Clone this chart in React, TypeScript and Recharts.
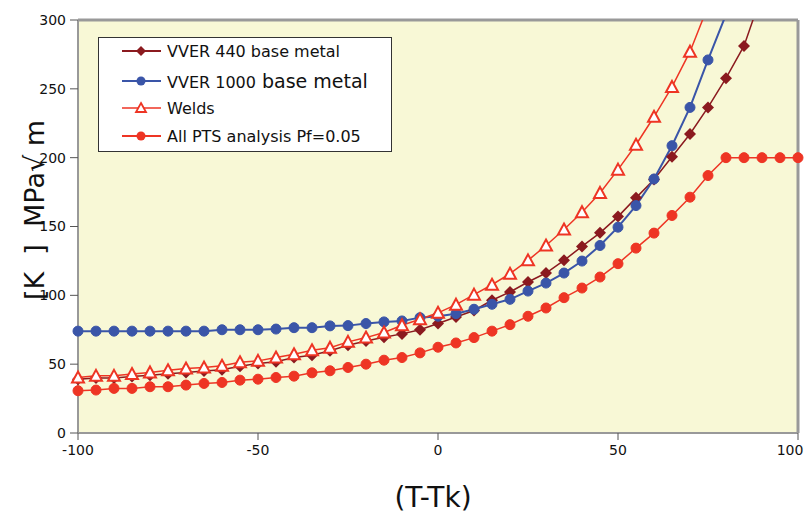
import React from 'react';
import { LineChart, Line, XAxis, YAxis, CartesianGrid, ReferenceLine, Legend } from 'recharts';

// T - Tk, step of 5
const temps = [
  -100, -95, -90, -85, -80, -75, -70, -65, -60, -55, -50, -45, -40, -35, -30, -25, -20, -15, -10, -5,
  0, 5, 10, 15, 20, 25, 30, 35, 40, 45, 50, 55, 60, 65, 70, 75, 80, 85, 90, 95, 100,
];

const vver440 = [
  39, 40, 40, 41, 42, 43, 44, 45, 46, 48.5, 50.5, 51.7, 54.8, 56.5, 59.7, 63.8, 66.9, 69.5, 72, 75,
  79.5, 84.3, 89, 96.4, 102.4, 109.7, 116.2, 125.4, 135.5, 145.4, 157.2, 170.8, 184.1, 200.7, 217.2, 236.5, 257.7, 281.2, 319, null, null,
];

const vver1000 = [
  74, 74, 74, 74, 74, 74, 74, 74, 75, 75, 75, 75.5, 76.5, 76.5, 77.8, 78, 79.5, 80.7, 81.4, 83.8,
  84.8, 86.7, 89.9, 93.5, 97.1, 103.1, 108.9, 116.2, 124.9, 136.2, 149.5, 165.2, 184.5, 208.7, 236.5, 271, 304, null, null, null, null,
];

const welds = [
  40.3, 41.5, 41.5, 42.8, 44, 45.6, 46.8, 47.6, 48.8, 51.4, 52.4, 54.8, 57.2, 60.1, 62, 66.2, 69.3, 73, 78.3, 82.6,
  87.3, 93.2, 100.5, 107.7, 115.7, 125.4, 136.2, 147.8, 160.4, 174.4, 191.3, 209.4, 229.7, 251.4, 277, 310, null, null, null, null, null,
];

const allPts = [
  30.7, 31.2, 32.4, 32.4, 33.6, 33.6, 34.8, 36, 36.7, 38.4, 39.1, 40.3, 41.3, 43.7, 45.2, 47.6, 50, 52.9, 54.8, 58.2,
  62.3, 65.4, 69.3, 74, 78.7, 84.8, 90.8, 98.3, 105.3, 113.3, 123, 134.3, 145.2, 158, 171.3, 187, 200, 200, 200, 200, 200,
];

const xTicks = [-100, -50, 0, 50, 100];
const yTicks = [0, 50, 100, 150, 200, 250, 300];

const data = temps.map((t, i) => ({
  t,
  vver440: vver440[i],
  vver1000: vver1000[i],
  welds: welds[i],
  allPts: allPts[i],
}));

const C440 = '#8b1a1f';
const C1000 = '#3a55a8';
const CRED = '#ee3524';
const FONT = '"DejaVu Sans", Verdana, sans-serif';

const Diamond = (props: any) => {
  const { cx, cy, index } = props;
  if (cx == null || cy == null) return <g key={`d-${index}`} />;
  return (
    <path
      key={`d-${index}`}
      d={`M${cx},${cy - 6} L${cx + 6},${cy} L${cx},${cy + 6} L${cx - 6},${cy} Z`}
      fill={C440}
    />
  );
};

const Triangle = (props: any) => {
  const { cx, cy, index } = props;
  if (cx == null || cy == null) return <g key={`t-${index}`} />;
  return (
    <path
      key={`t-${index}`}
      d={`M${cx},${cy - 6} L${cx + 6},${cy + 5} L${cx - 6},${cy + 5} Z`}
      fill="#fff"
      stroke={CRED}
      strokeWidth={2}
    />
  );
};

// keep the last tick label inside the picture
const XTick = (props: any) => {
  const { x, y, payload } = props;
  const shift = payload.value === 100 ? -6 : 0;
  return (
    <text x={x + shift} y={y} dy="0.71em" textAnchor="middle" fontSize={14} fill="#111" fontFamily={FONT}>
      {payload.value}
    </text>
  );
};

const LegendBox = () => {
  const rows = [
    { top: 13, label: 'VVER 440 base metal', color: C440, marker: 'diamond', w: 2 },
    { top: 43, label: 'VVER 1000', extra: ' base metal', color: C1000, marker: 'circle', w: 2 },
    { top: 70, label: 'Welds', color: CRED, marker: 'triangle', w: 1.5 },
    { top: 98, label: 'All PTS analysis Pf=0.05', color: CRED, marker: 'circle', w: 2 },
  ];
  return (
    <div
      style={{
        position: 'relative',
        width: 292,
        height: 113,
        background: '#fff',
        border: '1px solid #333',
        fontFamily: FONT,
        color: '#111',
      }}
    >
      {rows.map((r) => (
        <div key={r.label} style={{ position: 'absolute', left: 23, top: r.top - 10, height: 20, display: 'flex', alignItems: 'center', whiteSpace: 'pre' }}>
          <svg width={40} height={20} style={{ display: 'block' }}>
            <line x1={0} y1={10} x2={39} y2={10} stroke={r.color} strokeWidth={r.w} />
            {r.marker === 'diamond' && <path d="M19,5 L24,10 L19,15 L14,10 Z" fill={r.color} />}
            {r.marker === 'circle' && <circle cx={19} cy={10} r={4.5} fill={r.color} />}
            {r.marker === 'triangle' && <path d="M19,5 L24,14 L14,14 Z" fill="#fff" stroke={r.color} strokeWidth={1.8} />}
          </svg>
          <span style={{ fontSize: 16, marginLeft: 5 }}>
            {r.label}
            {r.extra && <span style={{ fontSize: 19 }}>{r.extra}</span>}
          </span>
        </div>
      ))}
    </div>
  );
};

const App: React.FC = () => {
  return (
    <div style={{ position: 'absolute', left: 0, top: 0, width: 808, height: 515, background: '#fff' }}>
      <LineChart width={808} height={515} data={data} margin={{ top: 20, right: 10, bottom: 0, left: 18 }}>
        <CartesianGrid horizontal={false} vertical={false} fill="#f8f8d6" fillOpacity={1} />
        <XAxis
          type="number"
          dataKey="t"
          domain={[-100, 100]}
          ticks={xTicks}
          height={82}
          tickSize={7}
          tickMargin={5}
          axisLine={{ stroke: '#999', strokeWidth: 2 }}
          tickLine={{ stroke: '#555' }}
          tick={<XTick />}
          label={{
            content: () => (
              <text x={433} y={497} textAnchor="middle" dominantBaseline="central" fontSize={28} fill="#111" fontFamily={FONT}>
                (T-Tk)
              </text>
            ),
          }}
        />
        <YAxis
          type="number"
          domain={[0, 300]}
          ticks={yTicks}
          allowDataOverflow
          width={60}
          tickSize={8}
          tickMargin={4}
          axisLine={{ stroke: '#999', strokeWidth: 2 }}
          tickLine={{ stroke: '#555' }}
          tick={{ fontSize: 14, fill: '#111', fontFamily: FONT }}
          label={{
            content: () => (
              <text
                transform="translate(34,210) rotate(-90)"
                textAnchor="middle"
                dominantBaseline="central"
                fontSize={27}
                fill="#111"
                fontFamily={FONT}
                style={{ whiteSpace: 'pre' }}
              >
                {'[K  ]  MPa\u221A m'}
              </text>
            ),
          }}
        />
        <ReferenceLine y={300} stroke="#999" strokeWidth={3} />
        <ReferenceLine x={100} stroke="#999" strokeWidth={3} />
        <Line dataKey="vver440" stroke={C440} strokeWidth={1.5} dot={<Diamond />} isAnimationActive={false} />
        <Line dataKey="vver1000" stroke={C1000} strokeWidth={2} dot={{ r: 5, fill: C1000, stroke: C1000, strokeWidth: 1 }} isAnimationActive={false} />
        <Line dataKey="welds" stroke={CRED} strokeWidth={1.5} dot={<Triangle />} isAnimationActive={false} />
        <Line dataKey="allPts" stroke={CRED} strokeWidth={1.5} dot={{ r: 5, fill: CRED, stroke: CRED, strokeWidth: 1 }} isAnimationActive={false} />
        <Legend
          layout="horizontal"
          verticalAlign="middle"
          align="center"
          wrapperStyle={{ left: 98, top: 37, width: 294, height: 115 }}
          content={() => <LegendBox />}
        />
      </LineChart>
    </div>
  );
};

export default App;
